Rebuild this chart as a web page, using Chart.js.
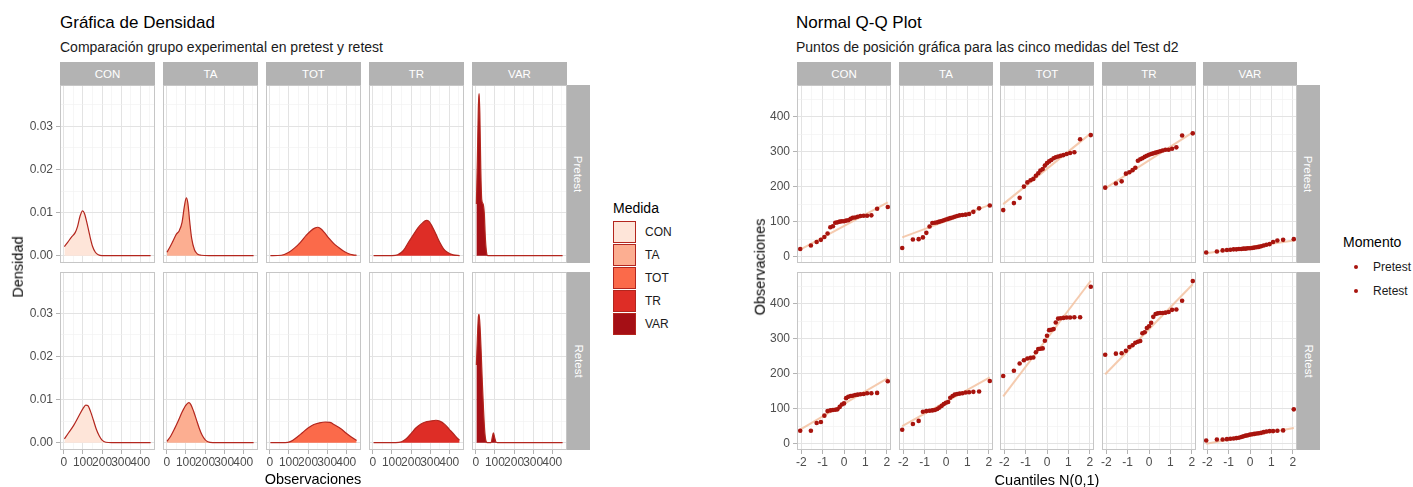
<!DOCTYPE html>
<html lang="es">
<head>
<meta charset="UTF-8">
<title>Gráfica de Densidad / Normal Q-Q Plot</title>
<script src="https://cdn.jsdelivr.net/npm/chart.js@4"></script>
<style>
  body { margin: 0; background: #fff; font-family: 'Liberation Sans', Arial, sans-serif; }
  #page { position: relative; width: 1413px; height: 487px; overflow: hidden; }
  .txt { position: absolute; white-space: nowrap; line-height: 1; }
  .title { font-size: 17px; color: #000; }
  .subtitle { font-size: 14px; color: #1a1a1a; }
  .axis-title { font-size: 14.5px; color: #000; }
  .leg-title { font-size: 14px; color: #000; }
  .leg-label { font-size: 12px; color: #1a1a1a; }
  .strip { position: absolute; background: #b3b3b3; color: #fff; font-size: 11.5px;
           display: flex; align-items: center; justify-content: center; }
  .strip.vert span { transform: rotate(90deg); white-space: nowrap; }
  canvas { position: absolute; }
</style>
</head>
<body>
<div id="page"></div>
<script>
// ---- datos ----
const medidas = ['CON', 'TA', 'TOT', 'TR', 'VAR'];
const momentos = ['Pretest', 'Retest'];
const coloresMedida = ['#fee5d9', '#fcae91', '#fb6a4a', '#de2d26', '#a50f15'];

// ticks
const densXGrid = [0, 50, 100, 150, 200, 250, 300, 350, 400, 450];
const densXLabels = [0, 100, 200, 300, 400];
const densYGrid = [0, 0.005, 0.01, 0.015, 0.02, 0.025, 0.03, 0.035];
const densYLabels = [0, 0.01, 0.02, 0.03];
const qqXGrid = [-2, -1.5, -1, -0.5, 0, 0.5, 1, 1.5, 2];
const qqXLabels = [-2, -1, 0, 1, 2];
const qqYGrid = [0, 50, 100, 150, 200, 250, 300, 350, 400, 450];
const qqYLabels = [0, 100, 200, 300, 400];

// curvas de densidad [observación, densidad]
const densConPre = [[3,0.0021],[20,0.0031],[40,0.0043],[60,0.0054],[72,0.0068],[85,0.0092],[98,0.0104],[108,0.0098],[120,0.0078],[135,0.0048],[150,0.0022],[165,0.0008],[180,0.0002],[200,0],[454,0]];
const densTaPre = [[1,0.0008],[15,0.0019],[30,0.0032],[50,0.0050],[65,0.0058],[80,0.0078],[92,0.0115],[102,0.0134],[110,0.0122],[120,0.0078],[130,0.0040],[145,0.0013],[160,0.0004],[180,0.0001],[220,0],[454,0]];
const densTotPre = [[3,0],[60,0.0001],[100,0.0008],[130,0.0018],[160,0.0031],[190,0.0047],[215,0.0058],[235,0.0064],[250,0.0066],[265,0.0063],[285,0.0054],[310,0.0040],[335,0.0028],[360,0.0019],[385,0.0011],[410,0.0005],[435,0.0002],[454,0.0001]];
const densTrPre = [[4,0],[100,0],[130,0.0002],[160,0.0012],[185,0.0030],[210,0.0047],[235,0.0064],[260,0.0076],[280,0.0082],[295,0.0079],[310,0.0068],[330,0.0050],[350,0.0031],[370,0.0016],[390,0.0008],[420,0.0002],[454,0]];
const densVarPre = [[3,0.012],[8,0.022],[13,0.034],[17,0.0376],[21,0.033],[26,0.020],[31,0.013],[38,0.012],[44,0.010],[50,0.004],[56,0.0008],[62,0],[454,0]];

const densConRe = [[3,0.0009],[25,0.0023],[50,0.0039],[75,0.0059],[100,0.0079],[115,0.0087],[125,0.0086],[140,0.0072],[155,0.0052],[170,0.0031],[185,0.0016],[200,0.0006],[220,0.0001],[250,0],[454,0]];
const densTaRe = [[1,0.0003],[20,0.0015],[40,0.0032],[60,0.0051],[80,0.0071],[100,0.0087],[115,0.0093],[125,0.0089],[140,0.0073],[155,0.0053],[170,0.0033],[185,0.0017],[200,0.0007],[215,0.0002],[240,0],[454,0]];
const densTotRe = [[3,0],[80,0],[110,0.0003],[140,0.0012],[170,0.0023],[200,0.0034],[230,0.0042],[260,0.0046],[290,0.0048],[315,0.0047],[340,0.0041],[370,0.0033],[400,0.0022],[430,0.0012],[454,0.0005]];
const densTrRe = [[4,0],[120,0],[150,0.0002],[175,0.0009],[200,0.0021],[225,0.0034],[250,0.0043],[275,0.0048],[300,0.0050],[330,0.0052],[350,0.0050],[375,0.0043],[400,0.0031],[425,0.0019],[445,0.0009],[454,0.0006]];
const densVarRe = [[3,0.018],[8,0.024],[13,0.029],[17,0.0298],[22,0.027],[28,0.021],[34,0.014],[40,0.008],[46,0.003],[52,0.0006],[60,0],[80,0],[86,0.0012],[92,0.0023],[98,0.0013],[104,0.0003],[112,0],[454,0]];

// Q-Q: cuantiles teóricos (eje x) y observaciones ordenadas
const cuantiles = [-2.05,-1.55,-1.28,-1.08,-0.92,-0.77,-0.64,-0.52,-0.41,-0.31,-0.2,-0.1,0,0.1,0.2,0.31,0.41,0.52,0.64,0.77,0.92,1.08,1.28,1.55,2.05];

const qqConPre = [22,32,42,48,56,66,84,87,97,98,100,101,101,103,104,108,111,112,114,116,117,117,118,137,142];
const qqTaPre  = [25,49,50,55,68,86,96,97,98,100,102,104,106,108,110,112,114,116,118,119,120,122,128,138,146];
const qqTotPre = [133,153,168,200,212,218,222,231,238,246,250,260,267,272,276,281,284,286,288,290,293,296,298,335,347];
const qqTrPre  = [197,209,215,237,241,247,254,274,278,281,285,288,291,293,295,297,299,301,303,305,305,308,312,346,352];
const qqVarPre = [12,15,18,19,20,21,21,22,22,23,23,24,24,25,26,27,28,30,32,34,36,42,46,48,50];

const qqConRe = [37,37,59,62,80,93,95,96,97,98,105,112,115,130,134,136,137,139,140,141,142,144,144,145,178];
const qqTaRe  = [40,56,65,91,93,94,95,96,99,103,108,113,117,119,131,136,140,142,143,144,146,147,148,149,179];
const qqTotRe = [193,208,229,238,243,245,246,261,270,271,272,294,308,324,325,327,346,357,358,359,360,360,361,361,448];
const qqTrRe  = [254,257,258,265,276,281,288,291,293,315,318,330,335,345,362,370,372,373,373,374,376,382,383,408,464];
const qqVarRe = [9,12,12,13,14,15,16,17,19,21,23,24,26,27,28,29,30,31,33,35,36,36,37,38,98];

// recta Q-Q: valor en el primer y último cuantil
const lineaPre = [[20,155],[55,148],[150,352],[195,355],[10,46]];
const lineaRe  = [[40,187],[50,189],[135,465],[198,455],[0,45]];

const densPre = [densConPre, densTaPre, densTotPre, densTrPre, densVarPre];
const densRe  = [densConRe, densTaRe, densTotRe, densTrRe, densVarRe];
const qqPre = [qqConPre, qqTaPre, qqTotPre, qqTrPre, qqVarPre];
const qqRe  = [qqConRe, qqTaRe, qqTotRe, qqTrRe, qqVarRe];

// ---- estilos / geometría ----
const FONT = "'Liberation Sans', Arial, sans-serif";
const LINE_DENS = '#b3261e';
const PUNTO = '#a8140e';
const LINEA_QQ = 'rgba(243,190,155,0.8)';
const GRID_MAJ = '#e3e3e3';
const GRID_MIN = '#f0f0f0';
const M = 14;      // margen de lienzo
const AXW = 44;    // ancho eje y
const AXH = 20;    // alto eje x
const ROW_TOP = [85, 272];
const PH = 178;

Chart.defaults.font.family = FONT;
const page = document.getElementById('page');

function addText(text, x, y, cls, align, rot) {
  const d = document.createElement('div');
  d.className = 'txt ' + cls;
  d.textContent = text;
  d.style.left = x + 'px';
  d.style.top = y + 'px';
  const tx = align === 'center' ? '-50%' : '0';
  d.style.transform = 'translate(' + tx + ',-50%)';
  if (rot) { d.style.transform = 'translate(-50%,-50%) rotate(' + rot + 'deg)'; }
  page.appendChild(d);
  return d;
}

function addStrip(text, x, y, w, h, vert) {
  const d = document.createElement('div');
  d.className = 'strip' + (vert ? ' vert' : '');
  d.style.left = x + 'px'; d.style.top = y + 'px';
  d.style.width = w + 'px'; d.style.height = h + 'px';
  const s = document.createElement('span');
  s.textContent = text;
  d.appendChild(s);
  page.appendChild(d);
}

const panelBorder = {
  id: 'panelBorder',
  afterDraw(chart) {
    const a = chart.chartArea, c = chart.ctx;
    c.save();
    c.strokeStyle = '#c6c6c6';
    c.lineWidth = 1;
    c.strokeRect(Math.round(a.left) + 0.5, Math.round(a.top) + 0.5, Math.round(a.right - a.left) - 1, Math.round(a.bottom - a.top) - 1);
    c.restore();
  }
};

function axis(pos, show, min, max, grid, labels, fmt) {
  const isMajor = v => labels.includes(v);
  return {
    type: 'linear', position: pos, min: min, max: max, display: true,
    afterBuildTicks: s => { s.ticks = grid.map(v => ({ value: v })); },
    afterFit: s => {
      if (pos === 'left') s.width = show ? AXW : 0;
      else s.height = show ? AXH : 0;
    },
    border: { display: false },
    grid: {
      color: c => isMajor(c.tick.value) ? GRID_MAJ : GRID_MIN,
      lineWidth: c => isMajor(c.tick.value) ? 1 : 0.6,
      drawTicks: show,
      tickLength: 4,
      tickColor: c => isMajor(c.tick.value) ? '#b3b3b3' : 'rgba(0,0,0,0)'
    },
    ticks: {
      display: show, autoSkip: false, maxRotation: 0, minRotation: 0,
      padding: pos === 'left' ? 3 : 1,
      color: '#4d4d4d', font: { family: FONT, size: 12 },
      callback: v => isMajor(v) ? fmt(v) : ''
    }
  };
}

function makePanel(left, top, w, showX, showY, xs, ys, datasets) {
  const cv = document.createElement('canvas');
  const cw = M + (showY ? AXW : 0) + w + M;
  const ch = M + PH + (showX ? AXH : 0) + M;
  cv.width = cw; cv.height = ch;
  cv.style.left = (left - M - (showY ? AXW : 0)) + 'px';
  cv.style.top = (top - M) + 'px';
  cv.style.width = cw + 'px'; cv.style.height = ch + 'px';
  page.appendChild(cv);
  new Chart(cv.getContext('2d'), {
    type: 'line',
    data: { datasets: datasets },
    options: {
      responsive: false, animation: false, devicePixelRatio: 1,
      layout: { padding: { left: M, right: M, top: M, bottom: M }, autoPadding: false },
      plugins: { legend: { display: false }, tooltip: { enabled: false } },
      scales: {
        x: axis('bottom', showX, xs[0], xs[1], xs[2], xs[3], xs[4]),
        y: axis('left', showY, ys[0], ys[1], ys[2], ys[3], ys[4])
      }
    },
    plugins: [panelBorder]
  });
}

// ---- Gráfica de densidad ----
const D_LEFT = [60, 163, 266, 369, 472], D_W = 95;
addText('Gráfica de Densidad', 60, 22, 'title');
addText('Comparación grupo experimental en pretest y retest', 60, 47, 'subtitle');
const dxs = [-20, 477, densXGrid, densXLabels, v => String(v)];
const dys = [-0.0017, 0.0396, densYGrid, densYLabels, v => v.toFixed(2)];

medidas.forEach((m, i) => addStrip(m, D_LEFT[i], 62, D_W, 23));
momentos.forEach((mo, r) => addStrip(mo, 567, ROW_TOP[r], 23, PH, true));

[densPre, densRe].forEach((rowData, r) => {
  rowData.forEach((curve, i) => {
    makePanel(D_LEFT[i], ROW_TOP[r], D_W, r === 1, i === 0, dxs, dys, [{
      data: curve.map(p => ({ x: p[0], y: p[1] })),
      borderColor: LINE_DENS, borderWidth: 1.2,
      backgroundColor: coloresMedida[i], fill: 'origin',
      pointRadius: 0, cubicInterpolationMode: 'monotone'
    }]);
  });
});
addText('Densidad', 18, 267, 'axis-title', 'center', -90);
addText('Observaciones', 313, 479, 'axis-title', 'center');

// leyenda Medida
addText('Medida', 613, 208, 'leg-title');
medidas.forEach((m, i) => {
  const b = document.createElement('div');
  b.style.cssText = 'position:absolute;left:613px;top:' + (221 + i * 23) + 'px;width:21px;height:20px;' +
    'background:' + coloresMedida[i] + ';border:1px solid ' + LINE_DENS + ';';
  page.appendChild(b);
  addText(m, 645, 232 + i * 23, 'leg-label');
});

// ---- Normal Q-Q Plot ----
const Q_LEFT = [797, 899, 1000, 1102, 1203], Q_W = 94;
addText('Normal Q-Q Plot', 796, 22, 'title');
addText('Puntos de posición gráfica para las cinco medidas del Test d2', 796, 47, 'subtitle');
const qxs = [-2.2, 2.2, qqXGrid, qqXLabels, v => String(v)];
const qys = [-18, 490, qqYGrid, qqYLabels, v => String(v)];

medidas.forEach((m, i) => addStrip(m, Q_LEFT[i], 62, Q_W, 23));
momentos.forEach((mo, r) => addStrip(mo, 1297, ROW_TOP[r], 23, PH, true));

[[qqPre, lineaPre], [qqRe, lineaRe]].forEach(([rowData, lineas], r) => {
  rowData.forEach((vals, i) => {
    makePanel(Q_LEFT[i], ROW_TOP[r], Q_W, r === 1, i === 0, qxs, qys, [
      {
        type: 'scatter',
        data: vals.map((v, k) => ({ x: cuantiles[k], y: v })),
        backgroundColor: PUNTO, borderWidth: 0, pointRadius: 2.3, showLine: false
      },
      {
        data: [{ x: cuantiles[0], y: lineas[i][0] }, { x: cuantiles[cuantiles.length - 1], y: lineas[i][1] }],
        borderColor: LINEA_QQ, borderWidth: 2, pointRadius: 0, fill: false
      }
    ]);
  });
});
addText('Observaciones', 760, 267, 'axis-title', 'center', -90);
addText('Cuantiles N(0,1)', 1047, 480, 'axis-title', 'center');

// leyenda Momento
addText('Momento', 1343, 242, 'leg-title');
momentos.forEach((mo, i) => {
  const d = document.createElement('div');
  d.style.cssText = 'position:absolute;left:1354px;top:' + (265 + i * 24) + 'px;width:4px;height:4px;border-radius:50%;background:' + PUNTO + ';';
  page.appendChild(d);
  addText(mo, 1373, 267 + i * 24, 'leg-label');
});
</script>
</body>
</html>
